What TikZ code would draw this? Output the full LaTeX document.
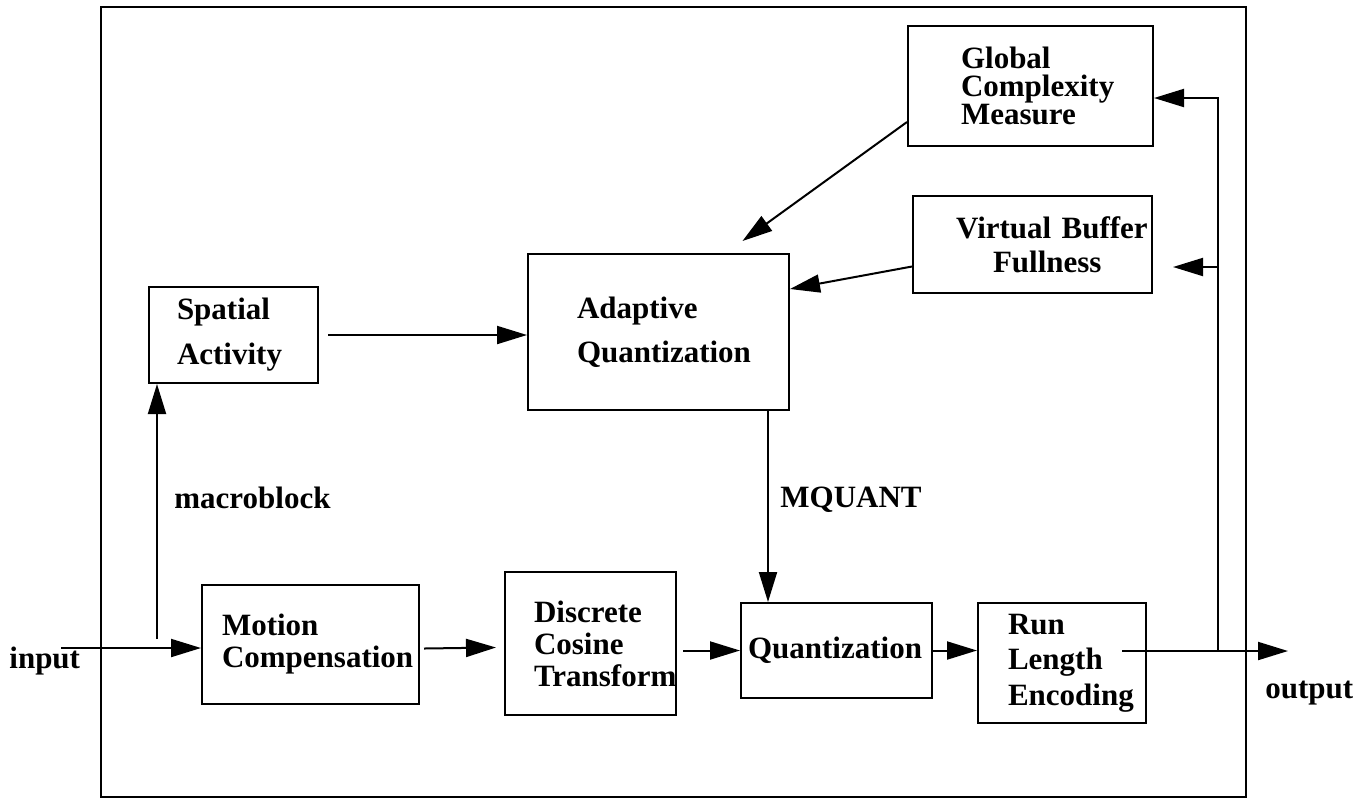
\documentclass[tikz,border=0pt]{standalone}
\usepackage{fontspec}
\setmainfont{Liberation Serif}
\usetikzlibrary{arrows.meta}
\hyphenpenalty=10000
\exhyphenpenalty=10000

\begin{document}
\begin{tikzpicture}[x=0.5pt,y=-0.5pt,
    blk/.style={draw, line width=1pt, align=left, inner ysep=0pt},
    lbl/.style={font=\bfseries\fontsize{15.5}{18}\selectfont},
    arr/.style={line width=1pt, -{Triangle[length=15pt,width=9pt]}}]
  \useasboundingbox (0,0) rectangle (1363,799);
  \draw[line width=1pt] (101,7) rectangle (1246,797);

  % blocks
  \node[blk, minimum width=84.5pt, minimum height=48pt, inner xsep=14pt, text width=56.5pt,
        font={\bfseries\fontsize{15.5}{22.5}\selectfont}] (spatial) at (233.5,335) {Spatial\\Activity};
  \node[blk, minimum width=130.5pt, minimum height=78pt, inner xsep=24.5pt, text width=81.5pt,
        font={\bfseries\fontsize{15.5}{22}\selectfont}] (adapt) at (658.5,332) {Adaptive\\Quantization};
  \node[blk, minimum width=108.5pt, minimum height=59.5pt, inner xsep=10pt, text width=88.5pt,
        font={\bfseries\fontsize{15.5}{16}\selectfont}] (mc) at (310.5,644.5) {Motion\\Compensation};
  \node[blk, minimum width=85.5pt, minimum height=71.5pt, inner xsep=14.5pt, text width=56.5pt,
        font={\bfseries\fontsize{15.5}{16}\selectfont\lineskiplimit=-10pt}] (dct) at (590.5,643.5) {Discrete\\Cosine\\Transform};
  \node[blk, minimum width=95.5pt, minimum height=47.5pt, inner xsep=3.5pt, text width=88.5pt,
        font={\bfseries\fontsize{15.5}{18}\selectfont}] (quant) at (836.5,650.5) {Quantization};
  \node[blk, minimum width=84pt, minimum height=60pt, inner xsep=15pt, text width=54pt,
        font={\bfseries\fontsize{15.5}{17.75}\selectfont}] (rle) at (1062,663) {Run\\Length\\Encoding};
  \node[blk, minimum width=122.5pt, minimum height=60pt, inner xsep=26.5pt, text width=69.5pt,
        font={\bfseries\fontsize{15.5}{14.2}\selectfont\lineskiplimit=-10pt}] (glob) at (1030.5,86) {Global\\Complexity\\Measure};
  \node[blk, minimum width=119.5pt, minimum height=48.5pt, inner xsep=21.5pt, text width=76.5pt,
        font={\bfseries\fontsize{15.5}{17}\selectfont}] (vbuf) at (1032.5,244.5) {Virtual~Buffer\\\hspace*{18.5pt}Fullness};

  % labels
  \node[lbl, anchor=base west, inner sep=0pt] (inlbl) at (9,668) {input};
  \node[lbl, anchor=base west, inner sep=0pt] (outlbl) at (1265,698) {output};
  \node[lbl, anchor=base west, inner sep=0pt] (mblbl) at (174,508) {macroblock};
  \node[lbl, anchor=base west, inner sep=0pt] (mqlbl) at (780,507) {MQUANT};

  \coordinate (in) at (61,648);
  \coordinate (mb) at (157,639);
  \coordinate (out) at (1288,651);
  \coordinate (fb) at (1218,651);
  \coordinate (tap) at (1218,267);

  % connectors
  \draw[arr] (in) -- (in -| mc.west);
  \draw[arr] (mb) -- (mb |- spatial.south);
  \draw[arr] ([xshift=4.5pt]spatial.east) -- (spatial.east -| adapt.west);
  \draw[arr] ([xshift=-11pt]adapt.south east) -- ([xshift=-11pt]adapt.south east |- quant.north);
  \draw[arr] ([xshift=2pt,yshift=-2pt]mc.east) -- ([xshift=-4pt,yshift=-2pt]dct.west);
  \draw[arr] ([xshift=3pt]dct.east |- quant.west) -- (quant.west);
  \draw[arr] (quant.east) -- (quant.east -| rle.west);
  \draw[arr] ([xshift=30pt]rle.center |- out) -- (out);
  \draw[arr] (fb) |- ([yshift=-6pt]glob.east);
  \draw[arr] (tap) -- ([xshift=10pt]vbuf.east |- tap);
  \draw[arr] ([yshift=-18pt]glob.west) -- ([xshift=42pt,yshift=6pt]adapt.north);
  \draw[arr] ([yshift=-11pt]vbuf.west) -- ([yshift=21.5pt]adapt.east);
\end{tikzpicture}
\end{document}
